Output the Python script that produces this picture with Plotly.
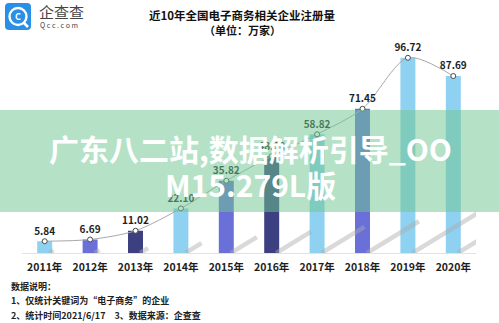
import plotly.graph_objects as go

years = ["2011", "2012", "2013", "2014", "2015", "2016", "2017", "2018", "2019", "2020"]
values = [5.84, 6.69, 11.02, 22.10, 35.82, 48.0, 58.82, 71.45, 96.72, 87.69]
value_labels = ["5.84", "6.69", "11.02", "22.10", "35.82", "48.00", "58.82", "71.45", "96.72", "87.69"]
tick_labels = [y + "年" for y in years]

LIGHT, MID, DARK = "#8fd1f1", "#6a70d8", "#3c3f80"
bar_colors = [LIGHT, MID, DARK, LIGHT, MID, DARK, LIGHT, MID, LIGHT, LIGHT]

W, H = 499, 323
ML, MR, MT, MB = 22, 23, 31, 70
PW, PH = W - ML - MR, H - MT - MB
FONT = "Noto Sans CJK SC"


def px(X):
    return (X - ML) / PW


def py(Y):
    return (H - MB - Y) / PH


xs = list(range(len(years)))
fig = go.Figure()

# bar shadows (decorative, derived from values)
for i, v in enumerate(values):
    fig.add_trace(go.Scatter(
        x=[i + 0.1, i + 0.1 + 0.016 * v], y=[0, 0.22 * v],
        mode="lines", line=dict(color="rgba(170,170,170,0.45)", width=4.5),
        hoverinfo="skip", showlegend=False))

fig.add_trace(go.Bar(
    x=xs, y=values, width=0.33, marker=dict(color=bar_colors, line=dict(width=0)),
    showlegend=False, hoverinfo="skip"))

fig.add_trace(go.Scatter(
    x=xs, y=values, mode="lines+markers+text",
    line=dict(color="#a8a8a8", width=1, shape="spline", smoothing=0.8),
    marker=dict(symbol="circle", size=5, color="white", line=dict(color="#4a4a4a", width=1)),
    text=["<b>%s</b>" % t for t in value_labels], textposition="top center",
    textfont=dict(family=FONT, size=10, color="#1e1e1e"),
    cliponaxis=False, showlegend=False, hoverinfo="skip"))

shapes = []
# watermark band
shapes.append(dict(type="rect", xref="paper", yref="paper", layer="above",
                   x0=px(-5), x1=px(W + 5), y0=py(212), y1=py(110),
                   fillcolor="rgba(113,199,145,0.52)", line=dict(width=0)))
# logo square
x0, x1, y0, y1, r = 5, 31, 3, 30, 4
path = (f"M {px(x0 + r)} {py(y0)} L {px(x1 - r)} {py(y0)} Q {px(x1)} {py(y0)} {px(x1)} {py(y0 + r)} "
        f"L {px(x1)} {py(y1 - r)} Q {px(x1)} {py(y1)} {px(x1 - r)} {py(y1)} "
        f"L {px(x0 + r)} {py(y1)} Q {px(x0)} {py(y1)} {px(x0)} {py(y1 - r)} "
        f"L {px(x0)} {py(y0 + r)} Q {px(x0)} {py(y0)} {px(x0 + r)} {py(y0)} Z")
shapes.append(dict(type="path", xref="paper", yref="paper", path=path,
                   fillcolor="#2a8fe6", line=dict(width=0), layer="above"))
shapes.append(dict(type="circle", xref="paper", yref="paper",
                   x0=px(9.5), x1=px(26.5), y0=py(25), y1=py(8),
                   line=dict(color="white", width=2.4), layer="above"))
shapes.append(dict(type="line", xref="paper", yref="paper",
                   x0=px(23.5), x1=px(28), y0=py(22.5), y1=py(27),
                   line=dict(color="white", width=2.6), layer="above"))

annotations = [
    dict(text="<b>C</b>", x=px(18), y=py(16.5), xref="paper", yref="paper", showarrow=False,
         font=dict(family=FONT, size=9, color="white"), xanchor="center", yanchor="middle"),
    dict(text="企查查", x=px(37), y=py(12), xref="paper", yref="paper", showarrow=False,
         font=dict(family=FONT, size=15, color="#454545"), xanchor="left", yanchor="middle"),
    dict(text="Q c c . c o m", x=px(38), y=py(25.5), xref="paper", yref="paper", showarrow=False,
         font=dict(family=FONT, size=7, color="#454545"), xanchor="left", yanchor="middle"),
    dict(text="<b>近10年全国电子商务相关企业注册量</b>", x=px(242), y=py(15), xref="paper", yref="paper",
         showarrow=False, font=dict(family=FONT, size=11.5, color="#111"), xanchor="center", yanchor="middle"),
    dict(text="<b>（单位：万家）</b>", x=px(242), y=py(30), xref="paper", yref="paper",
         showarrow=False, font=dict(family=FONT, size=11, color="#111"), xanchor="center", yanchor="middle"),
    dict(text="<b>数据说明：</b>", x=px(9), y=py(286), xref="paper", yref="paper", showarrow=False,
         font=dict(family=FONT, size=9, color="#222"), xanchor="left", yanchor="middle"),
    dict(text="<b>1、仅统计关键词为“电子商务”的企业</b>", x=px(9), y=py(300), xref="paper", yref="paper",
         showarrow=False, font=dict(family=FONT, size=9, color="#222"), xanchor="left", yanchor="middle"),
    dict(text="<b>2、统计时间2021/6/17　3、数据来源：企查查</b>", x=px(9), y=py(315), xref="paper", yref="paper",
         showarrow=False, font=dict(family=FONT, size=9, color="#222"), xanchor="left", yanchor="middle"),
    dict(text="<b>广东八二站,数据解析引导_OO</b>", x=px(250), y=py(148), xref="paper", yref="paper",
         showarrow=False, font=dict(family=FONT, size=30, color="white"), xanchor="center", yanchor="middle"),
    dict(text="<b>M15.279L版</b>", x=px(250), y=py(184), xref="paper", yref="paper",
         showarrow=False, font=dict(family=FONT, size=30, color="white"), xanchor="center", yanchor="middle"),
]

fig.update_layout(
    width=W, height=H, margin=dict(l=ML, r=MR, t=MT, b=MB),
    paper_bgcolor="white", plot_bgcolor="white",
    shapes=shapes, annotations=annotations,
    xaxis=dict(range=[-0.5, 9.5], tickmode="array", tickvals=xs,
               ticktext=["<b>%s</b>" % t for t in tick_labels],
               tickfont=dict(family=FONT, size=10.5, color="#1e1e1e"),
               showgrid=False, zeroline=False, showline=True, linecolor="#e2e2e2", linewidth=1,
               ticks="", ticklabelstandoff=4, fixedrange=True),
    yaxis=dict(range=[0, 110], visible=False, fixedrange=True),
    font=dict(family=FONT),
)

fig.write_html("out.html")
